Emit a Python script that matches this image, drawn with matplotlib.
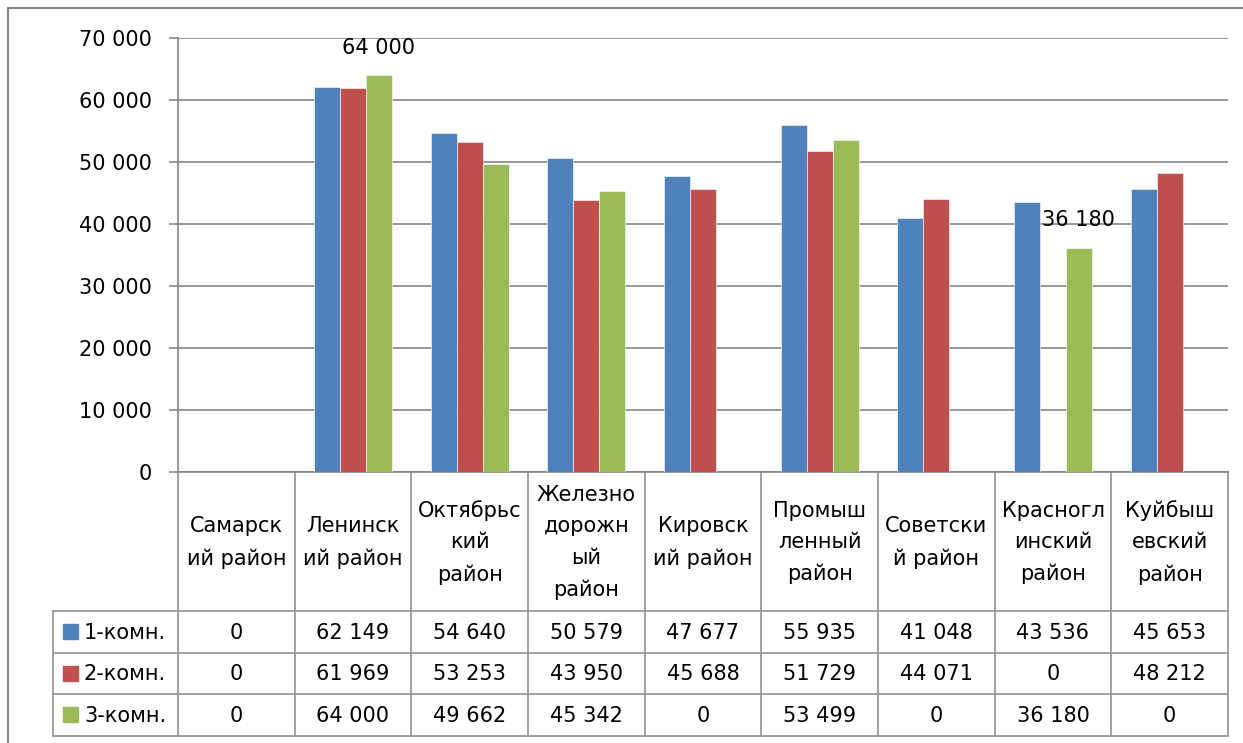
import matplotlib
matplotlib.use('Agg')
import matplotlib.pyplot as plt
import matplotlib.transforms as mtransforms
import numpy as np

# data
districts = ['Самарск\nий район', 'Ленинск\nий район', 'Октябрьс\nкий\nрайон',
             'Железно\nдорожн\nый\nрайон', 'Кировск\nий район', 'Промыш\nленный\nрайон',
             'Советски\nй район', 'Красногл\nинский\nрайон', 'Куйбыш\nевский\nрайон']
series_names = ['1-комн.', '2-комн.', '3-комн.']
one_room = [0, 62149, 54640, 50579, 47677, 55935, 41048, 43536, 45653]
two_room = [0, 61969, 53253, 43950, 45688, 51729, 44071, 0, 48212]
three_room = [0, 64000, 49662, 45342, 0, 53499, 0, 36180, 0]
labelled = [(2, 1), (2, 7)]  # (series, district) with a data label
yticks = [0, 10000, 20000, 30000, 40000, 50000, 60000, 70000]

colors = ['#4F81BD', '#C0504D', '#9BBB59']
GRID = '#868686'
W, H = 1243, 743

plt.rcParams['font.family'] = ['DejaVu Sans']
plt.rcParams['font.size'] = 15

def fmt(v):
    return f'{v:,}'.replace(',', ' ')

fig = plt.figure(figsize=(W / 100, H / 100), dpi=100)

# bar area in pixels
left, right, top, base = 178, 1228, 38, 472
ax = fig.add_axes([left / W, (H - base) / H, (right - left) / W, (base - top) / H])

# overlay for table + frame, pixel coords
tab = fig.add_axes([0, 0, 1, 1], zorder=-1)
tab.set_xlim(0, W)
tab.set_ylim(H, 0)
tab.axis('off')

series = [one_room, two_room, three_room]
x = np.arange(len(districts))
bw = 1 / 4.5
for k, vals in enumerate(series):
    ax.bar(x + (k - 1) * bw, vals, bw, color=colors[k], edgecolor='white', linewidth=0.4, zorder=3)

for k, i in labelled:
    v = series[k][i]
    ax.text(x[i] + (k - 1) * bw, v + 2800, fmt(v), ha='center', va='bottom', fontsize=15, zorder=4)

ax.set_xlim(-0.5, len(districts) - 0.5)
ax.set_ylim(0, 70000)
ax.set_yticks(yticks)
ax.set_yticklabels([fmt(t) for t in yticks])
ax.set_xticks([])
ax.yaxis.grid(True, color=GRID, linewidth=1.2)
ax.set_axisbelow(True)
ax.tick_params(axis='y', direction='out', length=6.5, width=1.2, color=GRID, pad=12)
for s in ['top', 'right']:
    ax.spines[s].set_visible(False)
for s in ['left', 'bottom']:
    ax.spines[s].set_color(GRID)
    ax.spines[s].set_linewidth(1.2)

# data table below the axis
blend = mtransforms.blended_transform_factory(ax.transData, tab.transData)
cat_bottom = 611
row_h = 41.5
rows_bottom = cat_bottom + row_h * len(series)
key_left = 53
lc = '#9A9A9A'

for i in range(len(districts) + 1):
    xi = i - 0.5
    tab.plot([xi, xi], [base, rows_bottom], color=lc, lw=1.3, transform=blend, clip_on=False)
for r in range(len(series) + 1):
    yy = cat_bottom + r * row_h
    tab.plot([key_left, right - 1], [yy, yy], color=lc, lw=1.3, clip_on=False)
tab.plot([key_left, key_left], [cat_bottom, rows_bottom], color=lc, lw=1.3)

for i, name in enumerate(districts):
    tab.text(x[i], (base + cat_bottom) / 2 + 1, name, ha='center', va='center',
             linespacing=1.7, transform=blend)
    for k, vals in enumerate(series):
        tab.text(x[i], cat_bottom + (k + 0.5) * row_h + 1, fmt(vals[i]), ha='center', va='center',
                 transform=blend)

for k, nm in enumerate(series_names):
    yc = cat_bottom + (k + 0.5) * row_h
    tab.add_patch(plt.Rectangle((63, yc - 7.5), 15, 15, color=colors[k]))
    tab.text(84, yc + 1, nm, ha='left', va='center')

# outer chart frame (cut off at right and bottom)
tab.plot([8, 8], [8, H], color='#878787', lw=1.5)
tab.plot([8, W], [8, 8], color='#878787', lw=1.5)

fig.savefig('out.png', dpi=100)
